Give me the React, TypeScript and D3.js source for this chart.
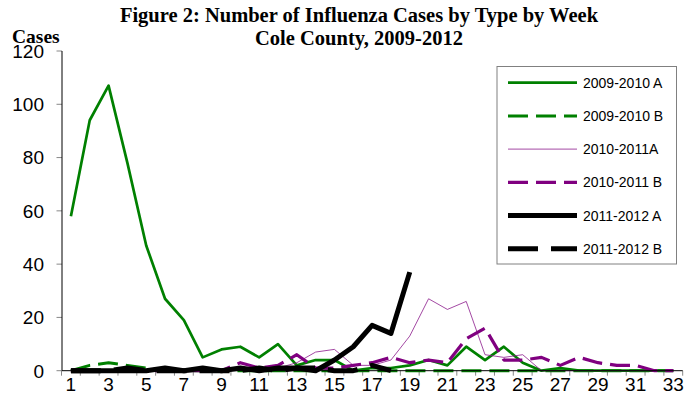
import React from "react";
import * as d3 from "d3";

// weeks 1..33
const weeks = d3.range(1, 34);
const yTicks = [0, 20, 40, 60, 80, 100, 120];
const xTickLabels = weeks.filter((w) => w % 2 === 1);

const flu0910A = [58, 94, 107, 78, 47, 27, 19, 5, 8, 9, 5, 10, 2, 4, 4, 0, 1, 1, 2, 4, 2, 9, 4, 9, 3, 0, 1, 0, 0, 0, 0, 0, 0];
const flu0910B = [0, 2, 3, 2, 1, 0, 0, 0, 0, 0, 0, 0, 0, 0, 0, 0, 0, 0, 0, 0, 0, 0, 0, 0, 0, 0, 0, 0, 0, 0, 0, 0, 0];
const flu1011A = [0, 0, 0, 0, 0, 0, 0, 0, 0, 1, 1, 1, 3, 7, 8, 2, 2, 4, 13, 27, 23, 26, 6, 5, 6, 0, 0, 0, 0, 0, 0, 0, 0];
const flu1011B = [0, 0, 0, 0, 0, 0, 0, 0, 0, 3, 1, 2, 6, 1, 1, 2, 3, 5, 3, 4, 3, 12, 16, 4, 4, 5, 2, 5, 3, 2, 2, 0, 0];
const flu1112A = [0, 0, 0, 0, 0, 1, 0, 1, 0, 1, 0, 1, 1, 0, 4, 9, 17, 14, 37];
const flu1112B = [0, 0, 0, 1, 0, 0, 0, 0, 0, 0, 1, 0, 1, 1, 0, 0, 2, 0];

const series = [
  { name: "2009-2010 A", values: flu0910A, color: "#008000", width: 2.7, dash: "" },
  { name: "2009-2010 B", values: flu0910B, color: "#008000", width: 3, dash: "20,8" },
  { name: "2010-2011A", values: flu1011A, color: "#8b1a8b", width: 0.8, dash: "" },
  { name: "2010-2011 B", values: flu1011B, color: "#800080", width: 3.2, dash: "20,8" },
  { name: "2011-2012 A", values: flu1112A, color: "#000000", width: 5, dash: "" },
  { name: "2011-2012 B", values: flu1112B, color: "#000000", width: 5, dash: "30,13" },
];

const W = 699;
const H = 410;
const sans = "'Liberation Sans', Arial, sans-serif";
const serif = "'Liberation Serif', 'Times New Roman', serif";

export default function App() {
  const x = d3.scaleBand<number>().domain(weeks).range([61.5, 682.7]);
  const y = d3.scaleLinear().domain([0, 120]).range([370.7, 51]);
  const cx = (w: number) => (x(w) as number) + x.bandwidth() / 2;

  const line = d3
    .line<number>()
    .x((_, i) => cx(i + 1))
    .y((d) => y(d));

  const legendX = 497;
  const legendY = 66.5;
  const rowY = (i: number) => 82.7 + i * 33.2;

  return (
    <div style={{ position: "absolute", left: 0, top: 0 }}>
      <svg width={W} height={H} style={{ display: "block", background: "#fff" }}>
        {/* title */}
        <text x={359} y={22} textAnchor="middle" fontFamily={serif} fontWeight="bold" fontSize={20.5}>
          Figure 2: Number of Influenza Cases by Type by Week
        </text>
        <text x={359} y={45} textAnchor="middle" fontFamily={serif} fontWeight="bold" fontSize={20.5}>
          Cole County, 2009-2012
        </text>
        <text x={12} y={43} fontFamily={serif} fontWeight="bold" fontSize={19.5}>
          Cases
        </text>

        {/* y axis */}
        {yTicks.map((t) => (
          <g key={t}>
            <line x1={56.5} x2={62} y1={y(t)} y2={y(t)} stroke="#888" strokeWidth={1} />
            <text x={44} y={y(t)} dy="0.36em" textAnchor="end" fontFamily={sans} fontSize={19}>
              {t}
            </text>
          </g>
        ))}
        <line x1={62} x2={62} y1={y(120)} y2={y(0)} stroke="#000" strokeWidth={1} />

        {/* x axis */}
        {weeks.concat([34]).map((w, i) => {
          const xx = i < 33 ? (x(w) as number) : 682.7;
          return <line key={w} x1={xx} x2={xx} y1={y(0)} y2={y(0) + 5} stroke="#888" strokeWidth={1} />;
        })}
        {xTickLabels.map((w) => (
          <text key={w} x={cx(w)} y={391} textAnchor="middle" fontFamily={sans} fontSize={19}>
            {w}
          </text>
        ))}

        {/* series */}
        {series.map((s) => (
          <path
            key={s.name}
            d={line(s.values) || ""}
            fill="none"
            stroke={s.color}
            strokeWidth={s.width}
            strokeDasharray={s.dash || undefined}
            strokeLinejoin="round"
          />
        ))}
        <line x1={62} x2={682.7} y1={y(0)} y2={y(0)} stroke="#000" strokeWidth={1} />

        {/* legend */}
        <rect x={legendX} y={legendY} width={179.5} height={197.5} fill="#fff" stroke="#808080" strokeWidth={1} />
        {series.map((s, i) => (
          <g key={s.name}>
            <line
              x1={508}
              x2={577}
              y1={rowY(i)}
              y2={rowY(i)}
              stroke={s.color}
              strokeWidth={s.width}
              strokeDasharray={s.dash || undefined}
            />
            <text x={583} y={rowY(i)} dy="0.36em" fontFamily={sans} fontSize={14}>
              {s.name}
            </text>
          </g>
        ))}
      </svg>
    </div>
  );
}
